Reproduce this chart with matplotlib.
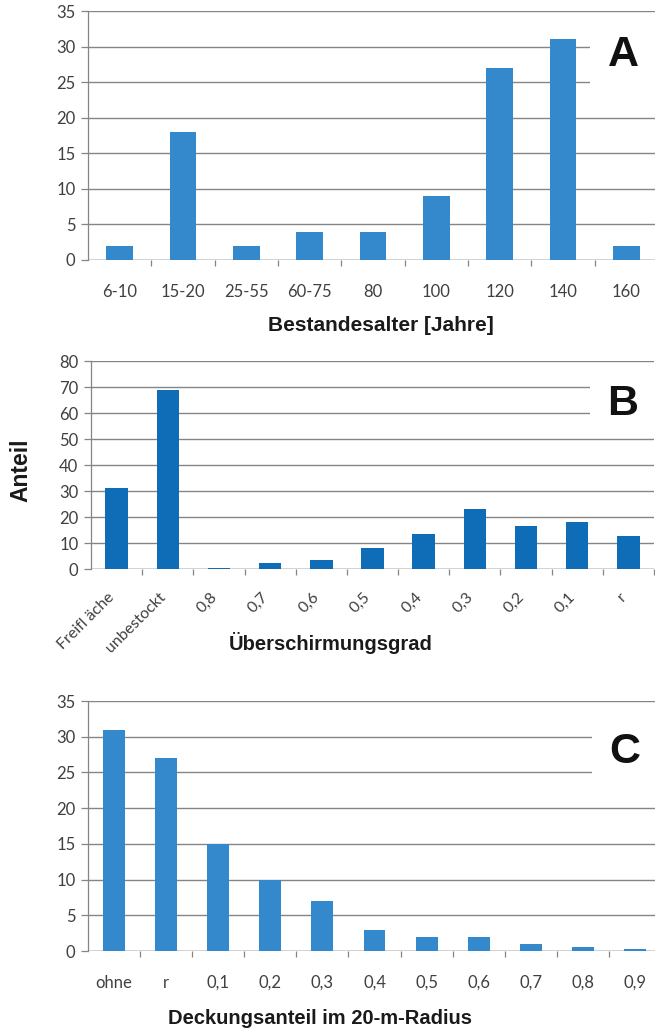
import matplotlib
matplotlib.use("Agg")
import matplotlib.pyplot as plt
from matplotlib.patches import Rectangle
from matplotlib.transforms import ScaledTranslation

# ---- data ----
a_categories = ["6-10", "15-20", "25-55", "60-75", "80", "100", "120", "140", "160"]
a_values = [2, 18, 2, 4, 4, 9, 27, 31, 2]

b_categories = ["Freifl äche", "unbestockt", "0,8", "0,7", "0,6", "0,5", "0,4", "0,3", "0,2", "0,1", "r"]
b_values = [31, 69, 0.5, 2.3, 3.5, 8, 13.5, 23, 16.5, 18, 12.7]

c_categories = ["ohne", "r", "0,1", "0,2", "0,3", "0,4", "0,5", "0,6", "0,7", "0,8", "0,9"]
c_values = [31, 27, 15, 10, 7, 3, 2, 2, 1, 0.55, 0.3]

a_yticks = [0, 5, 10, 15, 20, 25, 30, 35]
b_yticks = [0, 10, 20, 30, 40, 50, 60, 70, 80]
c_yticks = [0, 5, 10, 15, 20, 25, 30, 35]

W, H = 655, 1035
fig = plt.figure(figsize=(W / 100, H / 100), dpi=100)

TICK_FONT = ["Lato", "DejaVu Sans"]
LABEL_FONT = ["Liberation Sans", "DejaVu Sans"]
GRID = "#858585"
TXT = "#404040"


def px_axes(left, right, top, bottom):
    return fig.add_axes([left / W, 1 - bottom / H, (right - left) / W, (bottom - top) / H])


def style(ax, cats, vals, yticks, color, bw=0.42):
    x = list(range(len(cats)))
    ax.bar(x, vals, width=bw, color=color, zorder=3)
    ax.set_xlim(-0.5, len(cats) - 0.5)
    ax.set_ylim(yticks[0], yticks[-1])
    ax.set_yticks(yticks)
    ax.set_yticklabels([str(t) for t in yticks], fontfamily=TICK_FONT, fontsize=12, color=TXT)
    for s in ["top", "right", "bottom"]:
        ax.spines[s].set_visible(False)
    ax.spines["left"].set_color(GRID)
    ax.spines["left"].set_linewidth(0.9)
    ax.grid(axis="y", color=GRID, linewidth=1.0, zorder=0)
    ax.axhline(0, color=GRID, linewidth=1.0, zorder=2)
    ax.tick_params(axis="y", length=5, width=0.9, color=GRID, pad=4)
    ax.set_xticks([i + 0.5 for i in range(len(cats))])
    ax.set_xticks(x, minor=True)
    ax.tick_params(axis="x", which="major", length=4, width=0.9, color=GRID, labelbottom=False)
    ax.tick_params(axis="x", which="minor", length=0)


def letter(ax, s, lx, ly, bx0, by0, by1):
    ax.add_patch(Rectangle((bx0, by0), 1.2 - bx0, by1 - by0, transform=ax.transAxes,
                           facecolor="white", edgecolor="none", zorder=4, clip_on=False))
    ax.text(lx, ly, s, transform=ax.transAxes, ha="center", va="center",
            fontfamily=LABEL_FONT, fontweight="bold", fontsize=31, color="#111111", zorder=5)


# Panel A
axA = px_axes(88, 658, 11, 260)
style(axA, a_categories, a_values, a_yticks, "#3489cc")
axA.set_xticklabels(a_categories, minor=True, fontfamily=TICK_FONT, fontsize=12, color=TXT)
axA.tick_params(axis="x", which="minor", labelbottom=True, pad=17)
axA.set_xticklabels([], minor=False)
letter(axA, "A", 0.939, 0.823, 0.881, 0.643, 0.964)
fig.text(381 / W, 1 - 325 / H, "Bestandesalter [Jahre]", ha="center", va="center",
         fontfamily=LABEL_FONT, fontweight="bold", fontsize=15, color="#1a1a1a")

# Panel B
axB = px_axes(91, 654, 361, 569)
style(axB, b_categories, b_values, b_yticks, "#0f6cb6", bw=0.44)
axB.set_xticklabels(b_categories, minor=True, fontfamily=TICK_FONT, fontsize=11.5, color=TXT,
                    rotation=45, ha="right", rotation_mode="anchor")
axB.tick_params(axis="x", which="minor", labelbottom=True, pad=15)
axB.set_xticklabels([], minor=False)
shift = ScaledTranslation(-9 / 100, 0, fig.dpi_scale_trans)
for lab in axB.get_xticklabels(minor=True):
    lab.set_transform(lab.get_transform() + shift)
letter(axB, "B", 0.945, 0.793, 0.886, 0.678, 0.947)
fig.text(331 / W, 1 - 643 / H, "Überschirmungsgrad", ha="center", va="center",
         fontfamily=LABEL_FONT, fontweight="bold", fontsize=14.5, color="#1a1a1a")
fig.text(21 / W, 1 - 470 / H, "Anteil", ha="center", va="center", rotation=90,
         fontfamily=LABEL_FONT, fontweight="bold", fontsize=16.5, color="#1a1a1a")

# Panel C
axC = px_axes(88, 661, 701, 951)
style(axC, c_categories, c_values, c_yticks, "#3489cc")
axC.set_xticklabels(c_categories, minor=True, fontfamily=TICK_FONT, fontsize=12, color=TXT)
axC.tick_params(axis="x", which="minor", labelbottom=True, pad=17)
axC.set_xticklabels([], minor=False)
letter(axC, "C", 0.937, 0.796, 0.88, 0.624, 0.944)
fig.text(320 / W, 1 - 1018 / H, "Deckungsanteil im 20-m-Radius", ha="center", va="center",
         fontfamily=LABEL_FONT, fontweight="bold", fontsize=14.5, color="#1a1a1a")

fig.savefig("out.png", dpi=100, facecolor="white")
